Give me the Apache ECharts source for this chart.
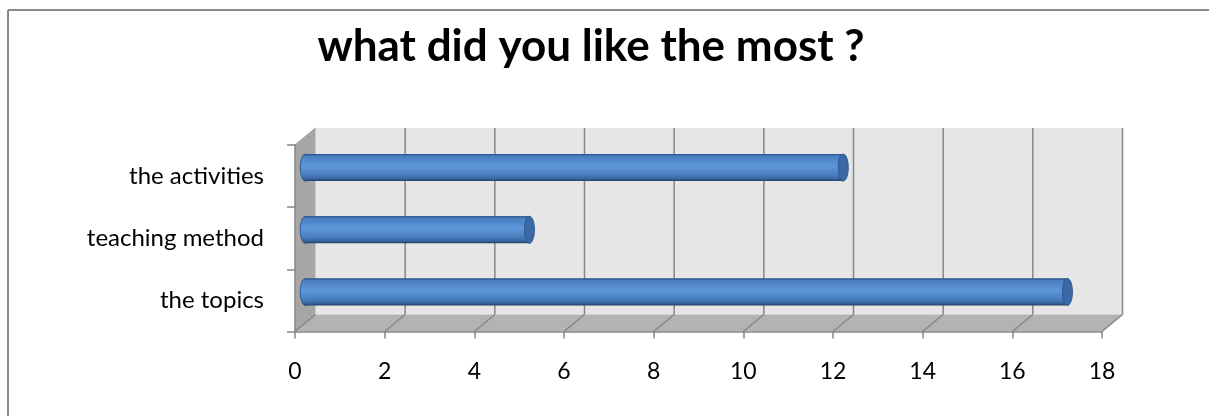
<!DOCTYPE html>
<html>
<head>
<meta charset="utf-8">
<script src="https://cdn.jsdelivr.net/npm/echarts@6/dist/echarts.min.js"></script>
<style>
html,body{margin:0;padding:0;background:#fff;}
#chart{width:1209px;height:416px;}
</style>
</head>
<body>
<div id="chart"></div>
<script>
const titleText = 'what did you like the most ?';
const categories = ['the topics', 'teaching method', 'the activities'];
const values = [17, 5, 12];
const xMin = 0, xMax = 18, xStep = 2;

const DX = 20.5, DY = -17;      // 3D depth offset
const BAR_H = 27, CAP_RX = 5;
const FONT = 'Lato, "Open Sans", sans-serif';

const chart = echarts.init(document.getElementById('chart'), null, {renderer: 'canvas'});

const barGrad = new echarts.graphic.LinearGradient(0, 0, 0, 1, [
  {offset: 0, color: '#2f5b94'},
  {offset: 0.08, color: '#4a7fc0'},
  {offset: 0.45, color: '#5e97db'},
  {offset: 0.75, color: '#4a7fc0'},
  {offset: 0.9, color: '#3a69a6'},
  {offset: 1, color: '#243f66'}
]);

function renderWalls(params, api) {
  const cs = params.coordSys;
  const L = cs.x, T = cs.y, R = cs.x + cs.width, B = cs.y + cs.height;
  const children = [];
  children.push({type: 'rect', shape: {x: L + DX, y: T + DY, width: cs.width, height: cs.height},
    style: {fill: '#e6e6e6'}});
  children.push({type: 'polygon', shape: {points: [[L, T], [L + DX, T + DY], [L + DX, B + DY], [L, B]]},
    style: {fill: '#a6a6a6'}});
  children.push({type: 'polygon', shape: {points: [[L, B], [L + DX, B + DY], [R + DX, B + DY], [R, B]]},
    style: {fill: '#b3b3b3'}});
  for (let v = xMin; v <= xMax; v += xStep) {
    const x = api.coord([v, 0])[0];
    if (v > xMin) {
      children.push({type: 'line', shape: {x1: x + DX, y1: T + DY, x2: x + DX, y2: B + DY},
        style: {stroke: '#868686', lineWidth: 1.5}});
    }
    children.push({type: 'line', shape: {x1: x, y1: B, x2: x + DX, y2: B + DY},
      style: {stroke: '#868686', lineWidth: 1.5}});
  }
  children.push({type: 'line', shape: {x1: L, y1: T, x2: L + DX, y2: T + DY},
    style: {stroke: '#9a9a9a', lineWidth: 1}});
  return {type: 'group', children: children};
}

function renderBar(params, api) {
  const idx = api.value(1);
  const p0 = api.coord([xMin, idx]);
  const p1 = api.coord([api.value(0), idx]);
  const x0 = p0[0] + DX / 2, x1 = p1[0] + DX / 2;
  const cy = p0[1] + DY / 2;
  const top = cy - BAR_H / 2;
  return {type: 'group', children: [
    {type: 'ellipse', shape: {cx: x0, cy: cy, rx: CAP_RX, ry: BAR_H / 2},
      style: {fill: barGrad, stroke: '#2d5a92', lineWidth: 1}},
    {type: 'rect', shape: {x: x0, y: top, width: x1 - x0, height: BAR_H},
      style: {fill: barGrad}},
    {type: 'line', shape: {x1: x0, y1: top + 0.5, x2: x1, y2: top + 0.5},
      style: {stroke: '#2d5a92', lineWidth: 1}},
    {type: 'ellipse', shape: {cx: x1, cy: cy, rx: CAP_RX, ry: BAR_H / 2},
      style: {fill: '#3a69a6', stroke: '#2d5a92', lineWidth: 1}}
  ]};
}

const option = {
  backgroundColor: '#ffffff',
  animation: false,
  title: {
    text: titleText,
    left: 586, top: 20, textAlign: 'center',
    textStyle: {fontFamily: FONT, fontWeight: 'bold', fontSize: 44, color: '#000'}
  },
  graphic: [
    {type: 'line', shape: {x1: 8, y1: 10, x2: 1209, y2: 10}, style: {stroke: '#8a8a8a', lineWidth: 2}, z: 100},
    {type: 'line', shape: {x1: 8, y1: 10, x2: 8, y2: 416}, style: {stroke: '#8a8a8a', lineWidth: 2}, z: 100}
  ],
  grid: {left: 295, right: 107, top: 145, bottom: 84.5},
  xAxis: {
    type: 'value', min: xMin, max: xMax, interval: xStep, z: 5,
    axisLine: {show: true, lineStyle: {color: '#868686', width: 1.5}},
    axisTick: {show: true, length: 7, lineStyle: {color: '#868686', width: 1.5}},
    axisLabel: {fontFamily: FONT, fontSize: 23, color: '#000', margin: 29},
    splitLine: {show: false}
  },
  yAxis: {
    type: 'category', data: categories, z: 5,
    axisLine: {show: true, lineStyle: {color: '#868686', width: 1.5}},
    axisTick: {show: true, length: 8, lineStyle: {color: '#868686', width: 1.5}},
    axisLabel: {fontFamily: FONT, fontSize: 24, color: '#000', margin: 31},
    splitLine: {show: false}
  },
  series: [
    {type: 'custom', name: 'walls', data: [[0, 0]], renderItem: renderWalls, z: 1, silent: true, clip: false},
    {type: 'custom', name: 'bars', data: values.map((v, i) => [v, i]), renderItem: renderBar, z: 2, clip: false}
  ]
};
chart.setOption(option);
</script>
</body>
</html>
